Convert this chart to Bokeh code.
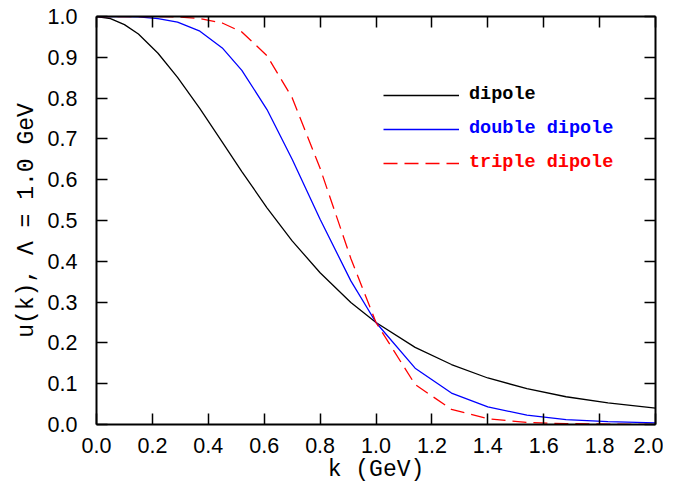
from bokeh.plotting import figure
from bokeh.models import (LinearAxis, FixedTicker, PrintfTickFormatter, Legend,
                          LegendItem, Range1d)
from bokeh.embed import file_html
from bokeh.resources import INLINE

# momentum k (GeV)
k = [0.0, 0.05, 0.10, 0.15, 0.22, 0.29, 0.37, 0.45, 0.52, 0.61, 0.70,
     0.80, 0.91, 1.00, 1.14, 1.27, 1.40, 1.54, 1.68, 1.83, 2.00]
dipole = [1.000, 0.995, 0.980, 0.957, 0.910, 0.851, 0.774, 0.692, 0.620,
          0.531, 0.450, 0.372, 0.299, 0.250, 0.189, 0.147, 0.114, 0.088,
          0.068, 0.053, 0.040]
double_dipole = [1.000, 1.000, 1.000, 0.999, 0.995, 0.986, 0.964, 0.923,
                 0.868, 0.772, 0.650, 0.503, 0.352, 0.250, 0.138, 0.077,
                 0.043, 0.023, 0.012, 0.007, 0.004]
triple_dipole = [1.000, 1.000, 1.000, 1.000, 1.000, 0.999, 0.995, 0.984,
                 0.962, 0.904, 0.801, 0.628, 0.407, 0.250, 0.098, 0.037,
                 0.014, 0.005, 0.002, 0.001, 0.000]

x_ticks = [0.0, 0.2, 0.4, 0.6, 0.8, 1.0, 1.2, 1.4, 1.6, 1.8, 2.0]
y_ticks = [0.0, 0.1, 0.2, 0.3, 0.4, 0.5, 0.6, 0.7, 0.8, 0.9, 1.0]

NB = "\u00a0"
TICK_FONT = "Liberation Sans"
TITLE_FONT = "Liberation Mono"

p = figure(frame_width=559, frame_height=408, output_backend="svg",
           toolbar_location=None, x_range=Range1d(0, 2.0), y_range=Range1d(0, 1.0),
           min_border_left=96, min_border_right=8, min_border_top=16,
           min_border_bottom=55, x_axis_label="k" + NB + "(GeV)",
           y_axis_label="u(k)," + NB + "Λ" + NB + "=" + NB + "1.0" + NB + "GeV")
p.xgrid.visible = False
p.ygrid.visible = False
p.outline_line_color = None
p.background_fill_color = "white"
p.border_fill_color = "white"

def style(ax, ticks, labels=True):
    ax.ticker = FixedTicker(ticks=ticks)
    ax.formatter = PrintfTickFormatter(format="%.1f")
    ax.minor_tick_line_color = None
    ax.major_tick_in = 11
    ax.major_tick_out = 0
    ax.major_tick_line_width = 1.5
    ax.major_tick_line_color = "black"
    ax.axis_line_width = 2
    ax.axis_line_color = "black"
    ax.major_label_text_font = TICK_FONT
    ax.major_label_text_font_size = "21.5px"
    ax.major_label_text_color = "black"
    if not labels:
        ax.major_label_overrides = {t: "" for t in ticks}
        ax.major_label_standoff = 0

style(p.xaxis[0], x_ticks)
style(p.yaxis[0], y_ticks)
p.xaxis[0].major_label_standoff = 13
p.yaxis[0].major_label_standoff = 19
for ax in (p.xaxis[0], p.yaxis[0]):
    ax.axis_label_text_font = TITLE_FONT
    ax.axis_label_text_font_size = "23px"
    ax.axis_label_text_font_style = "normal"
    ax.axis_label_text_color = "black"
p.xaxis[0].axis_label_standoff = 1
p.yaxis[0].axis_label_standoff = 5

top = LinearAxis()
right = LinearAxis()
style(top, x_ticks, labels=False)
style(right, y_ticks, labels=False)
p.add_layout(top, "above")
p.add_layout(right, "right")

r1 = p.line(k, dipole, line_color="black", line_width=1.3)
r2 = p.line(k, double_dipole, line_color="#0000ff", line_width=1.3)
r3 = p.line(k, triple_dipole, line_color="#ff0000", line_width=1.3,
            line_dash="14 7")

labels = ["dipole", "double dipole", "triple dipole"]
colors = ["black", "#0000ff", "#ff0000"]
rends = [r1, r2, r3]
ys = [319, 285, 251]
for lab, col, r, yy in zip(labels, colors, rends, ys):
    lg = Legend(items=[LegendItem(label=lab, renderers=[r])], location=(287, yy),
                padding=0, margin=0, border_line_color=None,
                background_fill_alpha=0, glyph_width=76, glyph_height=20,
                label_standoff=10, label_text_color=col,
                label_text_font=TITLE_FONT, label_text_font_style="bold",
                label_text_font_size="18.5px")
    p.add_layout(lg, "center")

open("out.html", "w").write(file_html(p, INLINE))
